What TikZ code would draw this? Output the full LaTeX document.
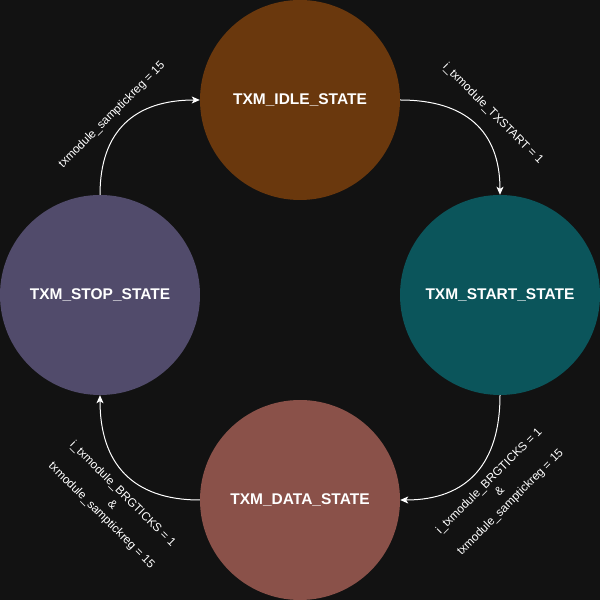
\documentclass[tikz,border=0pt]{standalone}
\usepackage{fontspec}
\setmainfont{Liberation Sans}
\usepackage{xcolor}
\usetikzlibrary{arrows.meta,positioning,shapes}

\definecolor{bgcol}{HTML}{121212}
\definecolor{idlecol}{HTML}{6A380D}
\definecolor{startcol}{HTML}{0B555B}
\definecolor{datacol}{HTML}{8A5149}
\definecolor{stopcol}{HTML}{514B6B}

\begin{document}
\begin{tikzpicture}[x=1pt, y=1pt,
		state/.style={circle, minimum size=200pt, inner sep=0pt, text=white, font=\fontsize{15.5}{18}\selectfont\bfseries},
		cond/.style={text=white, align=center, inner sep=0pt, font=\fontsize{11.8}{15}\selectfont},
		trans/.style={draw=white, line width=1pt, -{Stealth[length=8pt, width=7pt, inset=2pt]}}]

		\fill[bgcol] (0,0) rectangle (600,600);
		\useasboundingbox (0,0) rectangle (600,600);

		% states
		\node[state, fill=idlecol] (idle) at (300,500) {TXM\_IDLE\_STATE};
		\node[state, fill=startcol] (start) at (500,305) {TXM\_START\_STATE};
		\node[state, fill=datacol] (data) at (300,100) {TXM\_DATA\_STATE};
		\node[state, fill=stopcol] (stop) at (100,305) {TXM\_STOP\_STATE};

		% transitions
		\draw[trans] (idle.east) to[out=0, in=90, looseness=1.2] (start.north);
		\draw[trans] (start.south) to[out=-90, in=0, looseness=1.2] (data.east);
		\draw[trans] (data.west) to[out=180, in=-90, looseness=1.2] (stop.south);
		\draw[trans] (stop.north) to[out=90, in=180, looseness=1.2] (idle.west);

		% conditions
		\node[cond, rotate=-45] (txstart) at (493,486) {i\_txmodule\_TXSTART = 1};
		\node[cond, rotate=45] (brgright) at (500,108) {i\_txmodule\_BRGTICKS = 1\\\&\\txmodule\_samptickreg = 15};
		\node[cond, rotate=-45] (brgleft) at (112,95) {i\_txmodule\_BRGTICKS = 1\\\&\\txmodule\_samptickreg = 15};
		\node[cond, rotate=45] (samptick) at (112,485) {txmodule\_samptickreg = 15};

\end{tikzpicture}
\end{document}
